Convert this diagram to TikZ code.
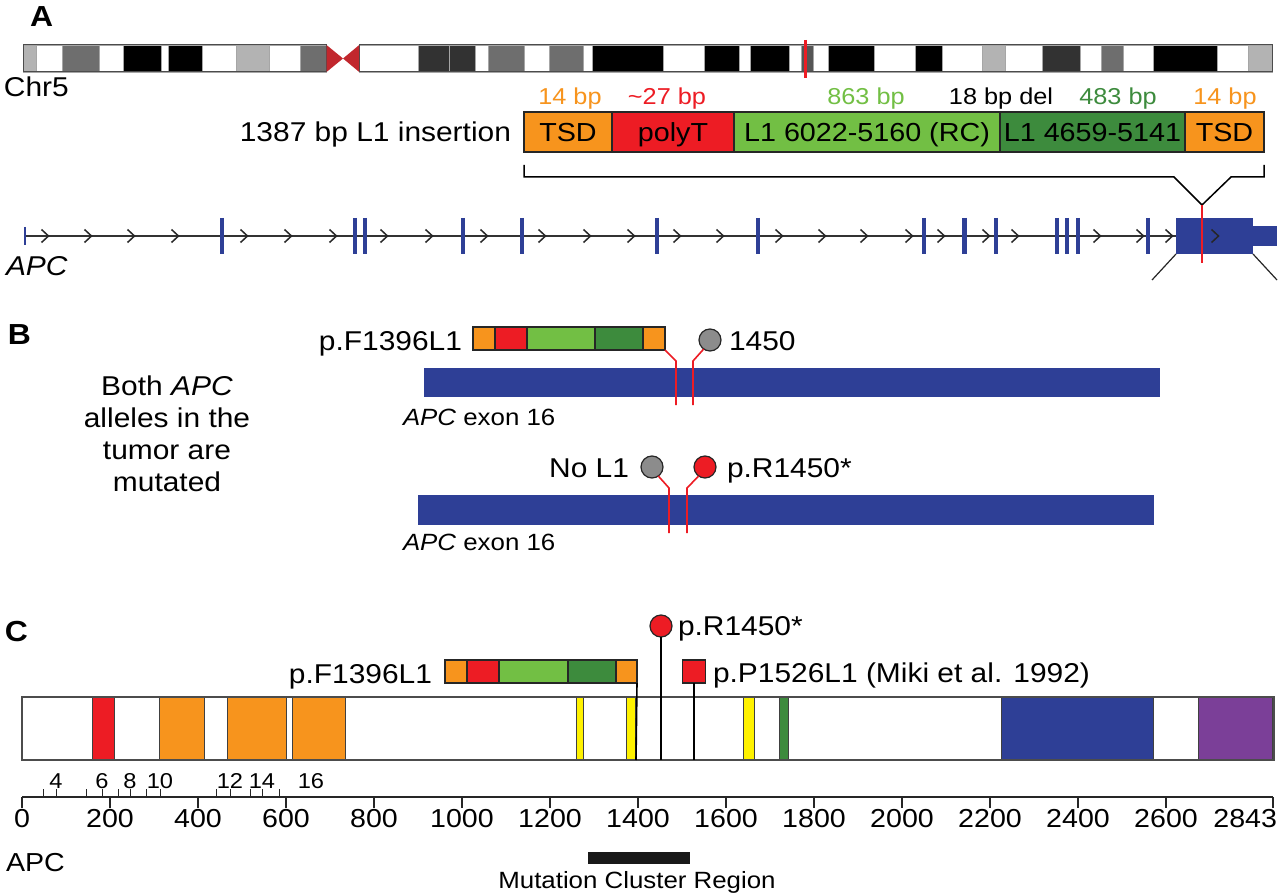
\documentclass[tikz,border=0pt]{standalone}
\usepackage{fontspec}
\setmainfont{Liberation Sans}[FakeStretch=1.1]
\newcommand\FtMain{\fontsize{27.2}{32}\selectfont}
\newcommand\FtSeg{\fontsize{26.1}{30}\selectfont}
\newcommand\FtBp{\fontsize{23}{26}\selectfont}
\newcommand\FtSm{\fontsize{23.5}{26}\selectfont}
\newcommand\FtAx{\fontsize{26}{30}\selectfont}
\newcommand\FtTiny{\fontsize{21.5}{24}\selectfont}
\newcommand\FtBig{\fontsize{29}{32}\selectfont\bfseries}
\definecolor{cOr}{RGB}{247,148,29}
\definecolor{cRd}{RGB}{237,28,36}
\definecolor{cLg}{RGB}{114,191,68}
\definecolor{cDg}{RGB}{61,139,61}
\definecolor{cBl}{RGB}{46,63,150}
\definecolor{cGy}{RGB}{140,140,140}
\definecolor{cYl}{RGB}{255,242,0}
\definecolor{cPu}{RGB}{123,63,152}
\definecolor{cCen}{RGB}{193,39,45}
\definecolor{bLG}{RGB}{179,179,179}
\definecolor{bG}{RGB}{110,110,110}
\definecolor{bDG}{RGB}{50,50,50}
\definecolor{bMG}{RGB}{85,85,85}
\begin{document}
\begin{tikzpicture}[x=1pt,y=-1pt,
  lbl/.style={inner sep=0pt, outer sep=0pt, font=\FtMain},
  seg/.style={draw=black!85, line width=1.2pt, minimum height=40pt, inner sep=0pt, outer sep=0pt, font=\FtSeg, text height=18.7pt, text depth=0pt},
  mseg/.style={draw=black!85, line width=1.2pt, minimum height=23pt, inner sep=0pt, outer sep=0pt},
  band/.style={draw=gray!70, line width=0.6pt},
  chev/.style={line width=1.5pt, draw=black!85},
  redl/.style={draw=cRd, line width=1.6pt},
  stem/.style={draw=black, line width=1.6pt},
  mdot/.style={circle, draw=black!85, line width=1.2pt, minimum size=22pt, inner sep=0pt, outer sep=0pt},
  dom/.style={draw=black!75, line width=1pt},
]
\useasboundingbox (0,0) rectangle (1280,896);
\fill[white] (0,0) rectangle (1280,896);

% ---------------- Panel A ----------------
\node[lbl, font=\FtBig, anchor=base west] (lblA) at (30,27) {A};
\foreach \a/\b/\c in {23.3/35.9/bLG, 35.9/62/white, 62/99.2/bG, 99.2/123.7/white, 123.7/161.2/black, 161.2/168.6/white, 168.6/202/black, 202/236.7/white, 236.7/269.4/bLG, 269.4/300/white, 300/326.5/bG,
  359.2/418.4/white, 418.4/449/bDG, 449/475.5/bDG, 475.5/487.8/white, 487.8/524.5/bG, 524.5/549/white, 549/582.9/bG, 582.9/591.8/white, 591.8/663.3/black, 663.3/704.5/white, 704.5/739.2/black, 739.2/750.2/white, 750.2/789/black, 789/801.2/white, 801.2/813.5/bMG, 813.5/827.8/white, 827.8/874.7/black, 874.7/915.5/white, 915.5/942/black, 942/982/white, 982/1005.3/bLG, 1005.3/1042/white, 1042/1080/bDG, 1080/1101.2/white, 1101.2/1122.9/bG, 1122.9/1153.5/white, 1153.5/1217.6/black, 1217.6/1248.2/white, 1248.2/1272.7/bLG}
  \filldraw[band, fill=\c] (\a,45) rectangle (\b,72);
\draw[gray!60!black, line width=1pt] (23.3,45) rectangle (326.5,72);
\draw[gray!60!black, line width=1pt] (359.2,45) rectangle (1272.7,72);
\fill[cCen] (326.5,45) -- (343,58.5) -- (326.5,72) -- cycle;
\fill[cCen] (359.2,45) -- (343,58.5) -- (359.2,72) -- cycle;
\draw[cRd, line width=3.5pt] (805.5,40) -- (805.5,78);
\node[lbl, anchor=base west] (chr) at (4,97) {Chr5};

% L1 insertion
\node[lbl, anchor=base east] (ins) at (511,142) {1387 bp L1 insertion};
\node[seg, fill=cOr, minimum width=88pt] (tsd1) at (568,132) {TSD};
\node[seg, fill=cRd, minimum width=122pt] (polyt) at (673,132) {polyT};
\node[seg, fill=cLg, minimum width=266pt] (lga) at (867,132) {L1 6022-5160 (RC)};
\node[seg, fill=cDg, minimum width=185pt] (lgb) at (1092.5,132) {L1 4659-5141};
\node[seg, fill=cOr, minimum width=79pt] (tsd2) at (1224.5,132) {TSD};
\node[lbl, font=\FtBp, text=cOr, anchor=base] (bp1) at (570,105) {14 bp};
\node[lbl, font=\FtBp, text=cRd, anchor=base] (bp2) at (667,105) {\textasciitilde27 bp};
\node[lbl, font=\FtBp, text=cLg, anchor=base] (bp3) at (866,105) {863 bp};
\node[lbl, font=\FtBp, anchor=base] (bp4) at (1001,105) {18 bp del};
\node[lbl, font=\FtBp, text=cDg, anchor=base] (bp5) at (1118,105) {483 bp};
\node[lbl, font=\FtBp, text=cOr, anchor=base] (bp6) at (1225,105) {14 bp};

% bracket
\coordinate (vb) at (1202,205);
\draw[line width=1.5pt, black] (524,165) -- (524,177) -- (1174,177) -- (vb) -- (1231,177) -- (1264,177) -- (1264,165);

% gene track
\node[fill=cBl, minimum width=77pt, minimum height=36pt, inner sep=0pt, outer sep=0pt] (bigex) at (1214.5,236) {};
\fill[cBl] (1253,226) rectangle (1277,246);
\coordinate (gs) at (25,236);
\draw[line width=1.4pt, black!80] (gs) -- (bigex.west);
\draw[cBl, line width=1.2pt] (25,227) -- (25,245);
\foreach \x in {222,355,365,463,522,657,758,924,996,1057,1067,1078,1148}
  \draw[cBl, line width=3.2pt] (\x,218) -- (\x,254);
\draw[cBl, line width=5pt] (964,218) -- (964,254);
\foreach \x in {45,88,131,175,244,288,333,384,429,484,542,587,631,677,720,779,822,864,909,941,986,1015,1097,1140,1169,1215}
  \draw[chev] (\x-3.5,229.5) .. controls (\x,232) .. (\x+3.5,236) .. controls (\x,240) .. (\x-3.5,242.5);
\coordinate (rlend) at (1202,263);
\draw[cRd, line width=1.5pt] (vb) -- (rlend);
\coordinate (dl) at (1152,280);
\coordinate (dr) at (1277,280);
\draw[line width=1.2pt, black!85] (bigex.south west) -- (dl);
\draw[line width=1.2pt, black!85] (1253,254) -- (dr);
\node[lbl, anchor=base west] (apcg) at (6,276) {\itshape APC};

% ---------------- Panel B ----------------
\node[lbl, font=\FtBig, anchor=base west] (lblB) at (8,344) {B};
\node[lbl, align=center] (both) at (167,434) {Both \textit{APC}\\alleles in the\\tumor are\\mutated};

\fill[cBl] (424,368) rectangle (1160,397);
\node[mseg, fill=cOr, minimum width=22pt] (b1) at (484,338.5) {};
\node[mseg, fill=cRd, minimum width=32pt] (b2) at (511,338.5) {};
\node[mseg, fill=cLg, minimum width=68pt] (b3) at (561,338.5) {};
\node[mseg, fill=cDg, minimum width=48pt] (b4) at (619,338.5) {};
\node[mseg, fill=cOr, minimum width=22pt] (b5) at (654,338.5) {};
\node[lbl, anchor=base east] (bF) at (462,350) {p.F1396L1};
\node[mdot, fill=cGy] (g1) at (710,340) {};
\node[lbl, anchor=base west] (b1450) at (729,350) {1450};
\coordinate (t1) at (676,405);
\coordinate (t2) at (693,405);
\draw[redl] (b5.south east) -- (676,361) -- (t1);
\draw[redl] (g1.-125) -- (693,361) -- (t2);
\node[lbl, font=\FtSm, anchor=base west] (ex1) at (403,425) {\itshape APC\upshape\ exon 16};

\fill[cBl] (418,495) rectangle (1154,525);
\node[mdot, fill=cGy] (g2) at (652,467) {};
\node[mdot, fill=cRd] (r2) at (705,467) {};
\node[lbl, anchor=base east] (nol1) at (629,477) {No L1};
\node[lbl, anchor=base west] (pr2) at (727,477) {p.R1450*};
\coordinate (t3) at (669,533);
\coordinate (t4) at (687,533);
\draw[redl] (g2.-55) -- (669,488) -- (t3);
\draw[redl] (r2.-125) -- (687,488) -- (t4);
\node[lbl, font=\FtSm, anchor=base west] (ex2) at (403,550) {\itshape APC\upshape\ exon 16};

% ---------------- Panel C ----------------
\node[lbl, font=\FtBig, anchor=base west] (lblC) at (5,641) {C};
\foreach \a/\b/\c in {92/114/cRd, 159/204/cOr, 227/286/cOr, 292/345/cOr, 576/583/cYl, 626/635/cYl, 743/754/cYl, 779/788/cDg, 1001/1153/cBl, 1198/1272/cPu}
  \filldraw[dom, fill=\c] (\a,697) rectangle (\b,760);
\node[draw=black!70, line width=1.2pt, minimum width=1252pt, minimum height=63pt, inner sep=0pt, outer sep=0pt] (prot) at (648,728.5) {};

\node[mseg, fill=cOr, minimum width=22pt] (c1) at (456,671.5) {};
\node[mseg, fill=cRd, minimum width=32pt] (c2) at (483,671.5) {};
\node[mseg, fill=cLg, minimum width=69pt] (c3) at (533.5,671.5) {};
\node[mseg, fill=cDg, minimum width=48pt] (c4) at (592,671.5) {};
\node[mseg, fill=cOr, minimum width=21pt] (c5) at (626.5,671.5) {};
\node[lbl, anchor=base east] (cF) at (432,683) {p.F1396L1};
\node[mdot, fill=cRd] (rc) at (661,626) {};
\node[lbl, anchor=base west] (cR) at (678,635) {p.R1450*};
\node[draw=black!85, line width=1.2pt, fill=cRd, minimum size=23pt, inner sep=0pt, outer sep=0pt] (sq) at (694,671.5) {};
\node[lbl, anchor=base west] (cP) at (713,682) {p.P1526L1 (Miki et al. 1992)};
\coordinate (p1) at (636,760);
\coordinate (p2) at (661,760);
\coordinate (p3) at (694,760);
\draw[stem] (c5.south east) -- (p1);
\draw[stem] (rc.south) -- (p2);
\draw[stem] (sq.south) -- (p3);

% axis
\draw[line width=1.6pt, black!85] (22,797) -- (1273,797);
\foreach \v in {0,200,...,2600} {
  \draw[line width=1.2pt, black!85] ({22+\v*0.44},797) -- ({22+\v*0.44},808);
  \node[lbl, font=\FtAx, anchor=base] at ({22+\v*0.44},827) {\v};
}
\draw[line width=1.2pt, black!85] (1273,797) -- (1273,808);
\node[lbl, font=\FtAx, anchor=base east] (l2843) at (1277,827) {2843};
\foreach \x in {43,56,86,102,118,130,146,160,216,230,250,262,279}
  \draw[line width=1pt, black!85] (\x,797) -- (\x,789);
\foreach \x/\t in {56/4,102/6,130/8,160/10,230/12,262/14,311/16}
  \node[lbl, font=\FtTiny, anchor=base] at (\x,788) {\t};
\node[lbl, font=\fontsize{26}{30}\selectfont, anchor=base west] (apcax) at (6,871) {APC};
\node[fill=black!90, minimum width=102pt, minimum height=12pt, inner sep=0pt, outer sep=0pt] (mcr) at (639,858) {};
\node[lbl, font=\fontsize{23.5}{26}\selectfont, anchor=base] (mcrt) at (637,888) {Mutation Cluster Region};
\end{tikzpicture}
\end{document}
